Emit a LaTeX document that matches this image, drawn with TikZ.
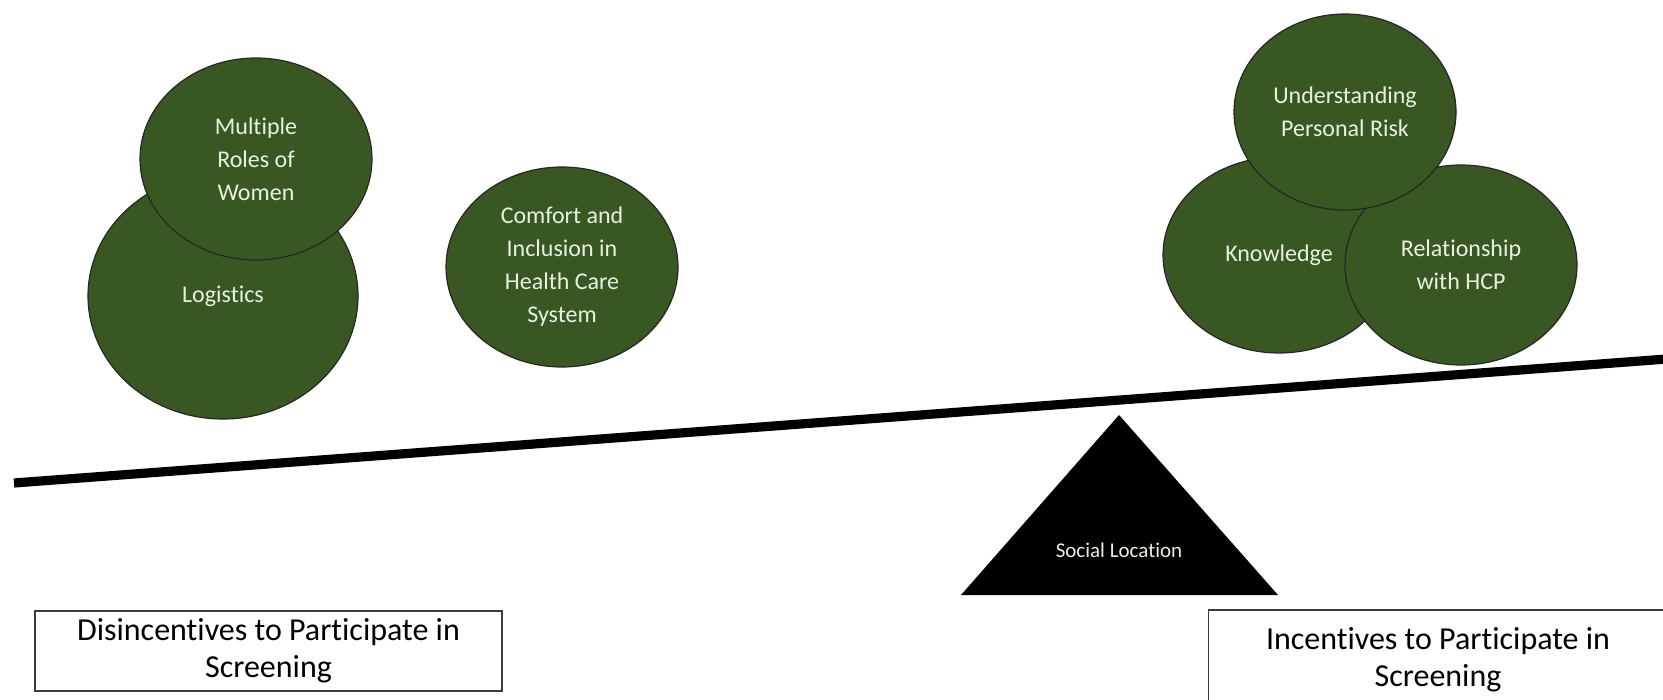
\documentclass[tikz,border=0pt]{standalone}
\usepackage{fontspec}
\setmainfont[Ligatures={NoCommon}]{Carlito}
\usetikzlibrary{shapes.geometric}
\definecolor{leaf}{RGB}{57,87,35}
\definecolor{pale}{RGB}{234,240,224}
\definecolor{rim}{RGB}{60,60,60}
\tikzset{
  factor/.style={ellipse, draw=black!85, line width=0.6pt, fill=leaf,
    inner sep=0pt, text=pale, align=center,
    font=\fontsize{12}{16.5}\selectfont},
  caption/.style={draw=rim, line width=0.8pt, fill=white, inner sep=0pt,
    align=center, font=\fontsize{16}{18.5}\selectfont},
  beam/.style={line width=4.6pt, black},
}
\begin{document}
\begin{tikzpicture}[x=0.5pt, y=-0.5pt]
\useasboundingbox (0,0) rectangle (1663,700);

% disincentives (left pan)
\node[factor, minimum width=135pt, minimum height=123pt] (logi) at (223,296) {Logistics};
\node[factor, minimum width=116pt, minimum height=101pt] (roles) at (256,159) {Multiple\\Roles of\\Women};
\node[factor, minimum width=116pt, minimum height=100pt] (comfort) at (562,267) {Comfort and\\Inclusion in\\Health Care\\System};

% incentives (right pan)
\node[factor, minimum width=116pt, minimum height=98pt] (know) at (1279,255) {Knowledge};
\node[factor, minimum width=116pt, minimum height=100pt] (hcp) at (1461,265) {Relationship\\with HCP};
\node[factor, minimum width=111pt, minimum height=98pt] (risk) at (1345,112) {Understanding\\Personal Risk};

% tilted beam
\coordinate (bl) at (14,483);
\coordinate (br) at (1680,358);
\draw[beam] (bl) -- (br);

% fulcrum
\coordinate (apex) at (1119,415);
\coordinate (baseL) at (961,595);
\coordinate (baseR) at (1278,595);
\fill[black] (apex) -- (baseL) -- (baseR) -- cycle;
\node[text=pale, font=\fontsize{10.5}{12}\selectfont] (social) at (1119,550) {Social Location};

% side captions
\node[caption, minimum width=233.5pt, minimum height=40pt] (dis) at (268.5,651) {Disincentives to Participate in\\Screening};
\node[caption, minimum width=229.5pt, minimum height=50pt] (inc) at (1438,660) {Incentives to Participate in\\Screening};
\end{tikzpicture}
\end{document}
